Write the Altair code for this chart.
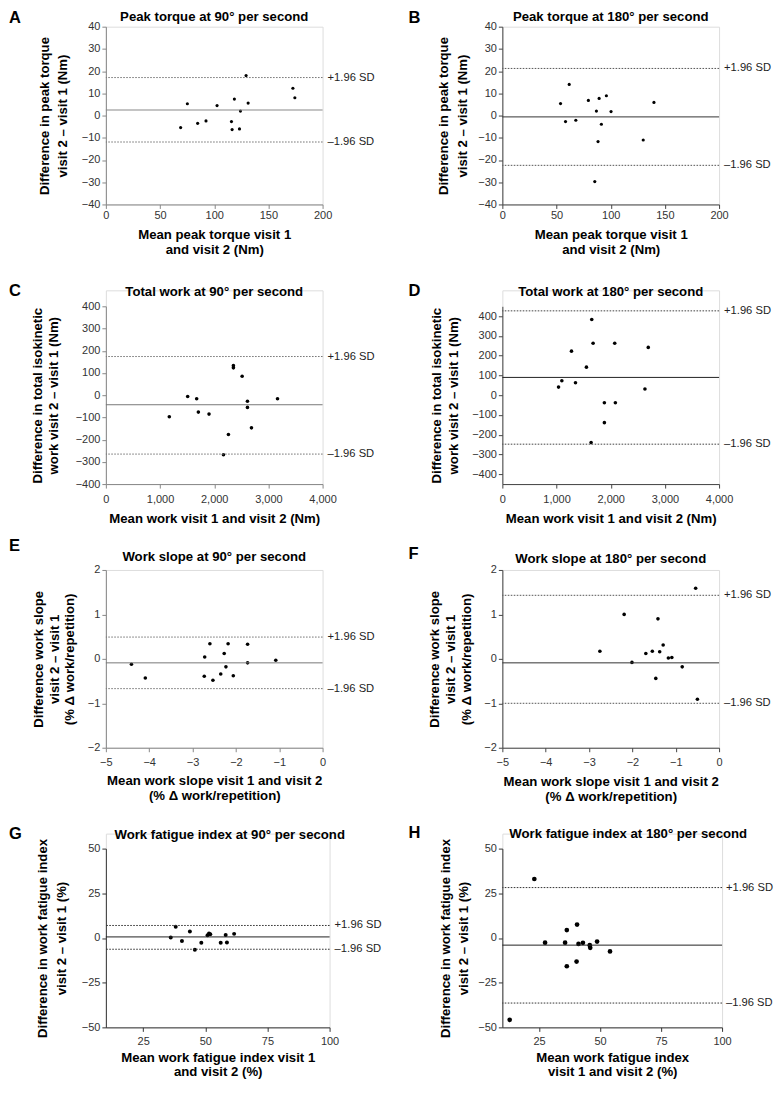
import altair as alt
import pandas as pd

FONT = "Liberation Sans"

# ---------------- data ----------------
A_x = [75.2, 69.0, 84.7, 92.4, 102.6, 115.9, 116.5, 118.6, 123.3, 124.2, 129.4, 131.3, 172.6, 174.4]
A_y = [5.3, -5.4, -3.5, -2.4, 4.5, -2.7, -6.3, 7.4, -6.0, 2.0, 18.0, 5.6, 12.3, 8.0]
A_lines = [2.5, 17.1, -11.9]

B_x = [53.7, 61.7, 58.3, 67.8, 79.4, 86.8, 89.3, 96.0, 91.4, 88.3, 100.3, 85.3, 130.0, 139.9]
B_y = [5.4, 14.0, -2.7, -2.1, 6.8, 2.0, 7.7, 8.9, -3.9, -11.7, 1.8, -29.7, -11.0, 5.9]
B_lines = [-0.6, 21.2, -22.4]

C_x = [1171, 1510, 1676, 1707, 1904, 2262, 2170, 2354, 2354, 2515, 2613, 2613, 2687, 3168]
C_y = [-97, -6, -16, -76, -85, -177, -268, 133, 123, 85, -27, -55, -147, -16]
C_lines = [-43, 174, -265]

D_x = [1037, 1098, 1276, 1350, 1552, 1650, 1675, 1638, 1883, 1883, 2074, 2086, 2632, 2693]
D_y = [41, 73, 223, 63, 142, 383, 263, -240, -38, -139, 263, -38, 31, 242]
D_lines = [90, 427, -248]

E_x = [-4.41, -4.09, -2.72, -2.73, -2.60, -2.53, -2.35, -2.27, -2.23, -2.18, -2.06, -1.73, -1.73, -1.08]
E_y = [-0.12, -0.43, 0.04, -0.39, 0.34, -0.48, -0.34, 0.12, -0.18, 0.34, -0.38, 0.33, -0.09, -0.03]
E_lines = [-0.09, 0.49, -0.67]

F_x = [-2.75, -2.19, -2.01, -1.69, -1.54, -1.41, -1.46, -1.37, -1.29, -1.17, -1.09, -0.85, -0.54, -0.50]
F_y = [0.17, 1.00, -0.08, 0.12, 0.17, 0.90, -0.44, 0.16, 0.31, 0.02, 0.03, -0.18, 1.59, -0.91]
F_lines = [-0.09, 1.43, -1.00]

G_x = [36.1, 38.1, 40.6, 43.8, 45.8, 48.4, 50.9, 51.5, 52.0, 56.2, 58.2, 58.7, 61.6]
G_y = [0.3, 6.3, -1.7, 3.6, -6.6, -2.6, 1.5, 2.5, 2.1, -2.6, 1.7, -2.5, 2.3]
G_lines = [0.6, 7.0, -6.3]

H_x = [13.0, 23.1, 27.5, 35.7, 36.4, 36.4, 40.4, 40.6, 41.2, 43.0, 45.8, 46.0, 48.8, 54.1]
H_y = [-45.8, 33.0, -2.6, -2.6, 4.4, -15.8, -13.2, 7.5, -3.3, -2.7, -4.0, -5.5, -2.0, -7.5]
H_lines = [-4.0, 28.2, -36.4]

SD_LABELS = ["+1.96 SD", "\u20131.96 SD"]

TITLES = {
    "A": "Peak torque at 90\u00b0 per second",
    "B": "Peak torque at 180\u00b0 per second",
    "C": "Total work at 90\u00b0 per second",
    "D": "Total work at 180\u00b0 per second",
    "E": "Work slope at 90\u00b0 per second",
    "F": "Work slope at 180\u00b0 per second",
    "G": "Work fatigue index at 90\u00b0 per second",
    "H": "Work fatigue index at 180\u00b0 per second",
}

Y_TITLES = {
    "A": ["Difference in peak torque", "visit 2 \u2013 visit 1 (Nm)"],
    "C": ["Difference in total isokinetic", "work visit 2 \u2013 visit 1 (Nm)"],
    "E": ["Difference work slope", "visit 2 \u2013 visit 1", "(% \u0394 work/repetition)"],
    "G": ["Difference in work fatigue index", "visit 2 \u2013 visit 1 (%)"],
}
X_TITLES = {
    "A": ["Mean peak torque visit 1", "and visit 2 (Nm)"],
    "C": "Mean work visit 1 and visit 2 (Nm)",
    "E": ["Mean work slope visit 1 and visit 2", "(% \u0394 work/repetition)"],
    "G": ["Mean work fatigue index visit 1", "and visit 2 (%)"],
    "H": ["Mean work fatigue index", "visit 1 and visit 2 (%)"],
}

TORQUE_X = [0, 50, 100, 150, 200]
TORQUE_Y = [-40, -30, -20, -10, 0, 10, 20, 30, 40]
WORK_X = [0, 1000, 2000, 3000, 4000]
WORK_Y = [-400, -300, -200, -100, 0, 100, 200, 300, 400]
SLOPE_X = [-5, -4, -3, -2, -1, 0]
SLOPE_Y = [-2, -1, 0, 1, 2]
FAT_X = [25, 50, 75, 100]
FAT_Y = [-50, -25, 0, 25, 50]

AXIS_TITLE_FS = 13.2
TITLE_FS = 13.2
LABEL_FS = 11
SD_FS = 11.2
LETTER_FS = 16.5


def panel(letter, xs, ys, lines, xdom, xticks, ydom, yticks, xtitle, ytitle,
          w, h, top, letter_dx, letter_dy, title_dx, title_dy, ytp, ylh,
          xlp, xtp, xlh, size, axcol, meancol, sdcol, sd_gap=5, xfmt=None):
    H = h + top
    yscale = alt.Scale(domain=ydom, range=[H, top], nice=False, zero=False)
    xscale = alt.Scale(domain=xdom, nice=False, zero=False)
    xkw = dict(values=xticks, title=xtitle, grid=False, labelFlush=False,
               labelPadding=xlp, titlePadding=xtp, titleLineHeight=xlh,
               tickSize=4, domainColor=axcol, tickColor=axcol,
               labelFontSize=LABEL_FS, labelColor="#333333", labelFont=FONT,
               titleFont=FONT, titleFontSize=AXIS_TITLE_FS, titleFontWeight="bold",
               titleColor="black", labelOverlap=False)
    if xfmt:
        xkw["format"] = xfmt
    xaxis = alt.Axis(**xkw)
    yaxis = alt.Axis(values=yticks, title=ytitle, grid=False, labelFlush=False,
                     labelPadding=2, titlePadding=ytp, titleLineHeight=ylh,
                     tickSize=4, domainColor=axcol, tickColor=axcol,
                     labelFontSize=LABEL_FS, labelColor="#333333", labelFont=FONT,
                     titleFont=FONT, titleFontSize=AXIS_TITLE_FS, titleFontWeight="bold",
                     titleColor="black", labelOverlap=False)

    pts_df = pd.DataFrame({"x": xs, "y": ys})
    mean_df = pd.DataFrame({"y": [lines[0]]})
    sd_df = pd.DataFrame({"y": lines[1:], "lab": SD_LABELS})
    letter_df = pd.DataFrame({"t": [letter]})
    title_df = pd.DataFrame({"t": [TITLES[letter]]})

    pts = alt.Chart(pts_df).mark_circle(size=size, color="black", opacity=1).encode(
        x=alt.X("x:Q", scale=xscale, axis=xaxis),
        y=alt.Y("y:Q", scale=yscale, axis=yaxis),
    )
    mean_rule = alt.Chart(mean_df).mark_rule(color=meancol, strokeWidth=1).encode(
        y=alt.Y("y:Q", scale=yscale, axis=yaxis)
    )
    sd_rule = alt.Chart(sd_df).mark_rule(color=sdcol, strokeWidth=1, strokeDash=[1.6, 1.4]).encode(
        y=alt.Y("y:Q", scale=yscale, axis=yaxis)
    )
    sd_text = alt.Chart(sd_df).mark_text(align="left", baseline="middle", font=FONT,
                                         fontSize=SD_FS, color="#222222").encode(
        y=alt.Y("y:Q", scale=yscale, axis=yaxis),
        x=alt.value(w + sd_gap),
        text="lab:N",
    )
    letter_txt = alt.Chart(letter_df).mark_text(align="left", baseline="alphabetic", font=FONT,
                                                fontSize=LETTER_FS, fontWeight="bold", color="black").encode(
        x=alt.value(letter_dx), y=alt.value(top + letter_dy), text="t:N"
    )
    title_txt = alt.Chart(title_df).mark_text(align="center", baseline="alphabetic", font=FONT,
                                              fontSize=TITLE_FS, fontWeight="bold", color="black").encode(
        x=alt.value(w / 2 + title_dx), y=alt.value(top + title_dy), text="t:N"
    )
    return alt.layer(pts, mean_rule, sd_rule, sd_text, letter_txt, title_txt).properties(
        width=w, height=H
    )


R2 = 16.0
R3 = 0.0
R4 = 15.0

pA = panel("A", A_x, A_y, A_lines, [0, 200], TORQUE_X, [-40, 40], TORQUE_Y,
           X_TITLES["A"], Y_TITLES["A"], 217, 178, 0, -97, -4, 0, -6,
           11.6, 18.5, 1, 8.2, 14.5, 10, "#888888", "#888888", "#777777")
pB = panel("B", B_x, B_y, B_lines, [0, 200], TORQUE_X, [-40, 40], TORQUE_Y,
           X_TITLES["A"], Y_TITLES["A"], 217, 178, 0, -94, -4, 0, -6,
           8.3, 18.5, 1.5, 7.9, 14.5, 10, "#444444", "#333333", "#555555")
pC = panel("C", C_x, C_y, C_lines, [0, 4000], WORK_X, [-400, 400], WORK_Y,
           X_TITLES["C"], Y_TITLES["C"], 217, 178, R2, -97, -10, 0, -10,
           14.5, 16.5, 5.2, 7.8, 14.5, 13, "#888888", "#777777", "#777777", xfmt=",.0f")
pD = panel("D", D_x, D_y, D_lines, [0, 4000], WORK_X, [-450, 450], WORK_Y,
           X_TITLES["C"], Y_TITLES["C"], 217, 178, R2, -94, -10, 0, -10,
           11.2, 17, 5.6, 7.8, 14.5, 13, "#444444", "#222222", "#444444", xfmt=",.0f")
pE = panel("E", E_x, E_y, E_lines, [-5, 0], SLOPE_X, [-2, 2], SLOPE_Y,
           X_TITLES["E"], Y_TITLES["E"], 217, 178, R3, -97, -18.7, 0, -8.7,
           10.8, 15.5, 4.5, 7.5, 14.5, 13, "#888888", "#777777", "#777777")
pF = panel("F", F_x, F_y, F_lines, [-5, 0], SLOPE_X, [-2, 2], SLOPE_Y,
           X_TITLES["E"], Y_TITLES["E"], 217, 178, R3, -94, -10.7, 0, -7,
           10.1, 16, 4.6, 8.5, 14.5, 13, "#444444", "#333333", "#555555")
pG = panel("G", G_x, G_y, G_lines, [10, 100], FAT_X, [-50, 50], FAT_Y,
           X_TITLES["G"], Y_TITLES["G"], 224, 179, R4, -97, -10, 12, -10,
           12.3, 19, 4.6, 4.5, 14, 16, "#333333", "#222222", "#333333")
pH = panel("H", H_x, H_y, H_lines, [10, 100], FAT_X, [-50, 50], FAT_Y,
           X_TITLES["H"], Y_TITLES["G"], 220, 179, R4, -94, -11, 16, -11,
           7.6, 18, 4.6, 4.5, 14, 22, "#333333", "#222222", "#333333", sd_gap=4)

chart = alt.concat(
    pA, pB, pC, pD, pE, pF, pG, pH,
    columns=2,
    spacing={"row": 86, "column": 173},
    bounds="flush",
    align="each",
).properties(padding=0).configure_view(stroke=None).configure(background="white")

chart.save("out.html", embed_options={"renderer": "svg", "actions": False})
